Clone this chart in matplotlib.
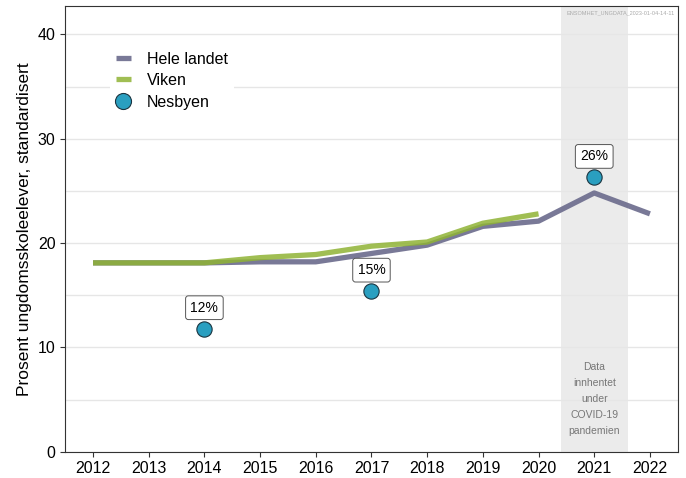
import matplotlib.pyplot as plt
from matplotlib.ticker import MultipleLocator

plt.rcParams['font.family'] = ['Liberation Sans', 'DejaVu Sans']

# data
years = [2012, 2013, 2014, 2015, 2016, 2017, 2018, 2019, 2020, 2021, 2022]
hele_landet = [18.1, 18.1, 18.1, 18.2, 18.2, 19.0, 19.8, 21.6, 22.1, 24.8, 22.8]
viken_years = [2012, 2013, 2014, 2015, 2016, 2017, 2018, 2019, 2020]
viken = [18.1, 18.1, 18.1, 18.6, 18.9, 19.7, 20.1, 21.9, 22.8]
nesbyen_years = [2014, 2017, 2021]
nesbyen = [11.8, 15.4, 26.3]
nesbyen_labels = ["12%", "15%", "26%"]

fig, ax = plt.subplots(figsize=(6.86, 4.78), dpi=100)

# COVID band
ax.axvspan(2020.4, 2021.6, color="#ebebeb", zorder=0, lw=0)
ax.text(2021, 8.6, "Data\ninnhentet\nunder\nCOVID-19\npandemien", ha="center", va="top",
        fontsize=7.5, color="#777777", linespacing=1.75)

ax.plot(years, hele_landet, color="#6b6b8c", lw=3.8, alpha=0.9, label="Hele landet",
        solid_capstyle="butt", zorder=3)
ax.plot(viken_years, viken, color="#8fb335", lw=3.8, alpha=0.85, label="Viken",
        solid_capstyle="butt", zorder=4)
ax.plot(nesbyen_years, nesbyen, "o", color="#2a9fc0", mec="#1a3440", mew=0.8, ms=11,
        label="Nesbyen", zorder=5)

for x, y, t in zip(nesbyen_years, nesbyen, nesbyen_labels):
    ax.annotate(t, (x, y), xytext=(0, 10), textcoords="offset points", ha="center", va="bottom",
                fontsize=10, bbox=dict(boxstyle="round,pad=0.35,rounding_size=0.2", fc="white",
                                       ec="#555555", lw=0.7), zorder=6)

ax.set_xlim(2011.5, 2022.5)
ax.set_ylim(0, 42.7)
ax.set_xticks(years)
ax.yaxis.set_major_locator(MultipleLocator(10))
ax.yaxis.set_minor_locator(MultipleLocator(5))
ax.grid(True, which="both", axis="y", color="#e6e6e6", lw=1)
ax.set_axisbelow(True)
ax.tick_params(which="minor", length=0)
ax.tick_params(labelsize=11.5, color="#333333")
for s in ax.spines.values():
    s.set_color("#333333")

ax.set_ylabel("Prosent ungdomsskoleelever, standardisert", fontsize=12.5)

leg = ax.legend(loc="upper left", bbox_to_anchor=(0.06, 0.93), frameon=True, fontsize=11.5,
                handlelength=0.9, handleheight=0.8, handletextpad=1.0, borderpad=0.4,
                labelspacing=0.4, markerscale=1.05, fancybox=False)
leg.get_frame().set_edgecolor("none")
leg.get_frame().set_facecolor("white")
leg.get_frame().set_alpha(1)

ax.text(0.995, 0.99, "ENSOMHET_UNGDATA_2023-01-04-14-11", transform=ax.transAxes,
        ha="right", va="top", fontsize=4, color="#aaaaaa")

fig.subplots_adjust(left=0.095, right=0.988, top=0.987, bottom=0.055)
fig.savefig("out.png", dpi=100)
